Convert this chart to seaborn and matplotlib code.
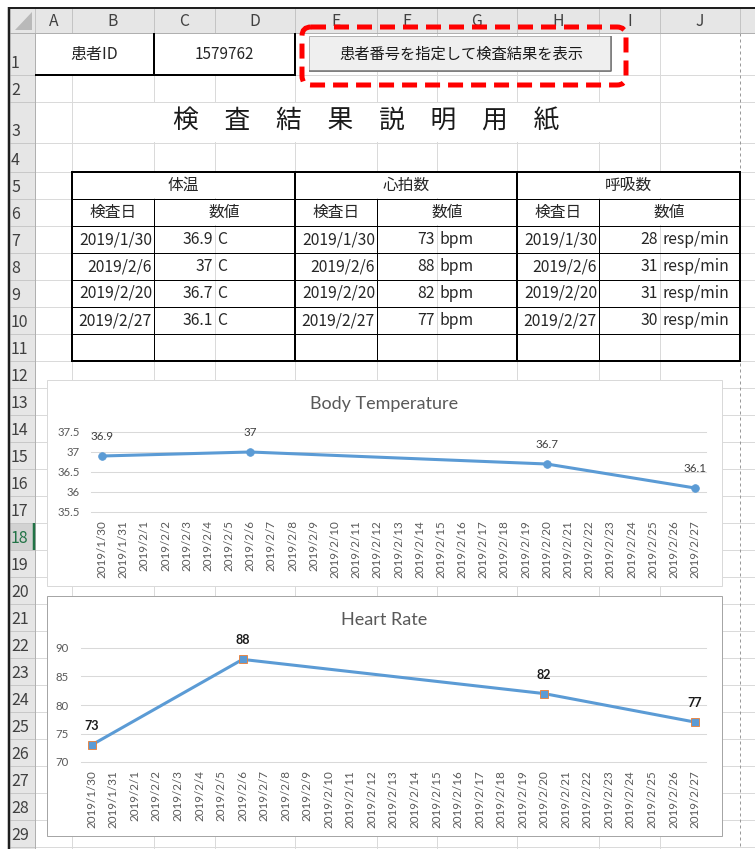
import matplotlib
matplotlib.use("Agg")
import matplotlib.pyplot as plt
from matplotlib.patches import Rectangle, FancyBboxPatch, Polygon
import matplotlib.dates as mdates
import pandas as pd
import seaborn as sns

# ---------------- data ----------------
patient_label = "患者ID"
patient_id = "1579762"
button_label = "患者番号を指定して検査結果を表示"
sheet_title = "検　査　結　果　説　明　用　紙"
exam_dates = ["2019/1/30", "2019/2/6", "2019/2/20", "2019/2/27"]
body_temp = [36.9, 37, 36.7, 36.1]
heart_rate = [73, 88, 82, 77]
resp_rate = [28, 31, 31, 30]
vital_names = ["体温", "心拍数", "呼吸数"]
vital_units = ["C", "bpm", "resp/min"]
sub_headers = ["検査日", "数値"]
temp_ticks = [35.5, 36, 36.5, 37, 37.5]
hr_ticks = [70, 75, 80, 85, 90]
col_letters = ["A", "B", "C", "D", "E", "F", "G", "H", "I", "J"]
chart_titles = ["Body Temperature", "Heart Rate"]

# ---------------- sheet geometry (pixels, y downwards) ----------------
W, H = 755, 849
COLS = [35, 72, 154, 215, 295, 377, 437, 517, 599, 660, 740]   # column edges A..J
ROWS = [33, 75, 102, 143] + [172 + 27 * i for i in range(27)]  # row edges 1..30
SELECTED_ROW = 18

JP = ["Noto Sans CJK JP", "DejaVu Sans"]
CHART_FONT = ["Lato", "DejaVu Sans"]
GRID = "#dadada"
INK = "#262626"
CELL_FS = 11.3
PX = 0.72  # points per pixel at 100 dpi

fig = plt.figure(figsize=(W / 100, H / 100), dpi=100)
fig.patch.set_facecolor("white")
bg = fig.add_axes([0, 0, 1, 1])
bg.set_xlim(0, W)
bg.set_ylim(H, 0)
bg.axis("off")


def hline(y, x0, x1, color, w=1.0, **kw):
    bg.plot([x0, x1], [y, y], color=color, lw=w * PX, solid_capstyle="butt", **kw)


def vline(x, y0, y1, color, w=1.0, **kw):
    bg.plot([x, x], [y0, y1], color=color, lw=w * PX, solid_capstyle="butt", **kw)


def cell_box(r0, r1, c0, c1):
    """pixel box (x0, y0, x1, y1) of rows r0..r1 and columns c0..c1 (1-based)"""
    return COLS[c0 - 1], ROWS[r0 - 1], COLS[c1], ROWS[r1]


# ---------------- cell grid ----------------
for y in ROWS[1:]:
    if y < H:
        hline(y, 35, W, GRID)
for x in COLS[1:-1]:
    vline(x, 33, H, GRID)

# merged cells hide the inner grid
merges = [(1, 1, 1, 2), (1, 1, 3, 4), (3, 3, 2, 9),
          (5, 5, 2, 4), (5, 5, 5, 7), (5, 5, 8, 10),
          (6, 6, 3, 4), (6, 6, 6, 7), (6, 6, 9, 10)]
for r0, r1, c0, c1 in merges:
    x0, y0, x1, y1 = cell_box(r0, r1, c0, c1)
    bg.add_patch(Rectangle((x0 + 0.8, y0 + 0.8), x1 - x0 - 1.6, y1 - y0 - 1.6,
                           fc="white", ec="none", zorder=2))

# page break
vline(739.5, 33, H, "#9a9a9a", zorder=3, linestyle=(0, (3, 3)))

# ---------------- headers ----------------
bg.add_patch(Rectangle((10, 8), W - 10, 25, fc="#e6e6e6", ec="none", zorder=4))
bg.add_patch(Rectangle((10, 33), 25, H - 33, fc="#e6e6e6", ec="none", zorder=4))
for x in COLS:
    vline(x, 8, 33, "#c4c4c4", zorder=5)
hline(33, 10, W, "#b0b0b0", zorder=5)
for i, letter in enumerate(col_letters):
    bg.text((COLS[i] + COLS[i + 1]) / 2, 21, letter, ha="center", va="center",
            fontsize=11.3, color="#404040", family=JP, zorder=6)
bg.add_patch(Polygon([(15, 30), (32, 30), (32, 12)], closed=True,
                     fc="#b9b9b9", ec="none", zorder=5))

sel_top, sel_bot = ROWS[SELECTED_ROW - 1], ROWS[SELECTED_ROW]
bg.add_patch(Rectangle((10, sel_top), 25, sel_bot - sel_top, fc="#d2d2d2",
                       ec="none", zorder=4.5))
for r in range(1, len(ROWS)):
    top, bot = ROWS[r - 1], ROWS[r]
    if top >= H:
        break
    hline(bot, 10, 35, "#c8c8c8", zorder=5)
    if bot - 7 < H:
        bg.text(11, bot - 7, str(r), ha="left", va="baseline", fontsize=11.5,
                color="#217346" if r == SELECTED_ROW else "#404040",
                family=JP, zorder=6)
vline(35, 33, H, "#b0b0b0", zorder=5)
vline(34, sel_top, sel_bot, "#217346", w=2.5, zorder=6)

# outer window frame
vline(9, 7, H, "#1f1f1f", w=2.5, zorder=7)
hline(7.5, 8, W, "#1f1f1f", w=2, zorder=7)

# ---------------- patient row ----------------
x0, y0, x1, y1 = cell_box(1, 1, 1, 2)
bg.text((x0 + x1) / 2, (y0 + y1) / 2, patient_label, ha="center", va="center",
        fontsize=11.5, color=INK, family=JP, zorder=6)
x0, y0, x1, y1 = cell_box(1, 1, 3, 4)
bg.text((x0 + x1) / 2, (y0 + y1) / 2, patient_id, ha="center", va="center",
        fontsize=11, color=INK, family=JP, zorder=6)
vline(154, 33, 75, "black", w=2, zorder=6)
vline(295, 33, 75, "black", w=2, zorder=6)
hline(75, 35, 296, "black", w=2, zorder=6)

# button and its red dashed highlight
bg.add_patch(Rectangle((309, 36), 302, 35, fc="#efefef", ec="#b4b4b4",
                       lw=PX, zorder=8))
hline(70.5, 309, 611, "#707070", w=1.5, zorder=9)
vline(610.5, 36, 71, "#707070", w=1.5, zorder=9)
bg.text(461, 54, button_label, ha="center", va="center", fontsize=11,
        color="#1a1a1a", family=JP, zorder=10)
bg.add_patch(FancyBboxPatch((302, 27), 324, 58,
                            boxstyle="round,pad=0,rounding_size=9",
                            fc="none", ec="#ff0000", lw=5 * PX,
                            linestyle=(0, (3.0, 1.6)), zorder=11))

# ---------------- sheet title ----------------
x0, y0, x1, y1 = cell_box(3, 3, 2, 9)
bg.text((x0 + x1) / 2, (y0 + y1) / 2 - 1, sheet_title, ha="center", va="center",
        fontsize=18.5, color="#1a1a1a", family=JP, zorder=6)

# ---------------- result tables ----------------
for t, (name, unit, vals) in enumerate(zip(vital_names, vital_units,
                                          [body_temp, heart_rate, resp_rate])):
    c0 = 2 + 3 * t
    xl, xm1, xm2, xr = COLS[c0 - 1], COLS[c0], COLS[c0 + 1], COLS[c0 + 2]
    yc5 = (ROWS[4] + ROWS[5]) / 2
    yc6 = (ROWS[5] + ROWS[6]) / 2
    bg.text((xl + xr) / 2, yc5, name, ha="center", va="center", fontsize=CELL_FS,
            color=INK, family=JP, zorder=6)
    bg.text((xl + xm1) / 2, yc6, sub_headers[0], ha="center", va="center",
            fontsize=CELL_FS, color=INK, family=JP, zorder=6)
    bg.text((xm1 + xr) / 2, yc6, sub_headers[1], ha="center", va="center",
            fontsize=CELL_FS, color=INK, family=JP, zorder=6)
    for i, (d, v) in enumerate(zip(exam_dates, vals)):
        yc = (ROWS[6 + i] + ROWS[7 + i]) / 2
        bg.text(xm1 - 2, yc, d, ha="right", va="center", fontsize=CELL_FS,
                color=INK, family=JP, zorder=6)
        bg.text(xm2 - 2, yc, f"{v:g}", ha="right", va="center", fontsize=CELL_FS,
                color=INK, family=JP, zorder=6)
        bg.text(xm2 + 2.5, yc, unit, ha="left", va="center", fontsize=CELL_FS,
                color=INK, family=JP, zorder=6)

for r in range(6, 12):
    hline(ROWS[r - 1], 72, 740, "black", w=1, zorder=6)
for x in [154, 377, 599]:
    vline(x, ROWS[5], ROWS[11], "black", w=1, zorder=6)
for x in [72, 295, 517, 740]:
    vline(x, ROWS[4] - 1, ROWS[11] + 1, "black", w=2, zorder=7)
hline(ROWS[4], 72, 740, "black", w=2, zorder=7)
hline(ROWS[11], 72, 740, "black", w=2, zorder=7)

# ---------------- charts ----------------
LINE = "#5b9bd5"
dates = pd.to_datetime(exam_dates, format="%Y/%m/%d")
days = pd.date_range(dates.min(), dates.max(), freq="D")
day_nums = mdates.date2num(days)
date_nums = mdates.date2num(dates)


def draw_chart(box, plot_px, title, title_y, values, ticks, marker, mec,
               label_weight, label_color, label_size, border):
    bx0, by0, bx1, by1 = box
    bg.add_patch(Rectangle((bx0, by0), bx1 - bx0, by1 - by0, fc="white",
                           ec=border, lw=PX, zorder=20))
    bg.text((bx0 + bx1) / 2, title_y, title, ha="center", va="center",
            fontsize=13, color="#595959", family=CHART_FONT, zorder=21)
    px0, py0, px1, py1 = plot_px
    ax = fig.add_axes([px0 / W, 1 - py1 / H, (px1 - px0) / W, (py1 - py0) / H])
    ax.set_facecolor("none")
    df = pd.DataFrame({"date": date_nums, "value": values})
    sns.lineplot(data=df, x="date", y="value", ax=ax, color=LINE, lw=2.2,
                 marker=marker, markersize=5.5, markeredgecolor=mec,
                 markeredgewidth=0.6, zorder=3)
    for xd, v in zip(date_nums, values):
        ax.annotate(f"{v:g}", xy=(xd, v), xytext=(0, 13.7),
                    textcoords="offset points", ha="center", va="center",
                    fontsize=label_size, fontweight=label_weight,
                    color=label_color, family=CHART_FONT,
                    annotation_clip=False)
    ax.set_xlim(day_nums[0] - 0.5, day_nums[-1] + 0.5)
    ax.set_ylim(ticks[0], ticks[-1])
    ax.set_xticks(day_nums)
    ax.set_xticklabels([f"{d.year}/{d.month}/{d.day}" for d in days],
                       rotation=90, fontsize=8.4, color="#595959",
                       family=CHART_FONT)
    ax.set_yticks(ticks)
    ax.set_yticklabels([f"{v:g}" for v in ticks], fontsize=8.2, color="#595959",
                       family=CHART_FONT)
    ax.tick_params(axis="both", length=0)
    ax.tick_params(axis="x", pad=5.8)
    ax.tick_params(axis="y", pad=8.6)
    ax.set_xlabel("")
    ax.set_ylabel("")
    for s in ax.spines.values():
        s.set_visible(False)
    ax.yaxis.grid(True, color="#d9d9d9", lw=0.75)
    ax.xaxis.grid(False)
    ax.set_axisbelow(True)
    for gl in ax.get_ygridlines():
        gl.set_clip_on(False)
    return ax


draw_chart((47, 380, 722, 586), (91.4, 432, 705.6, 512), chart_titles[0], 404,
           body_temp, temp_ticks, "o", LINE, "normal", "#404040", 8.4, "#d9d9d9")
draw_chart((47, 596, 722, 836), (81, 648, 705.8, 762), chart_titles[1], 620,
           heart_rate, hr_ticks, "s", "#ed7d31", "bold", "#1a1a1a", 9, "#a6a6a6")

fig.savefig("out.png", dpi=100)
